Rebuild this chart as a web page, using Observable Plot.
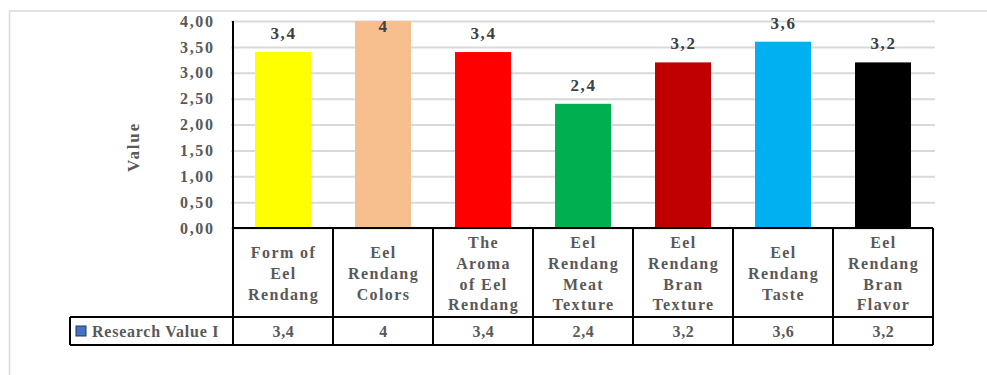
<!DOCTYPE html>
<html>
<head>
<meta charset="utf-8">
<script src="https://cdn.jsdelivr.net/npm/d3@7"></script>
<script src="https://cdn.jsdelivr.net/npm/@observablehq/plot@0.6"></script>
<style>
  body { margin: 0; background: #fff; }
  #chart svg { display: block; }
  #chart svg text { font-family: "Liberation Serif", "DejaVu Serif", serif !important; font-weight: bold; }
</style>
</head>
<body>
<div id="chart"></div>
<script>
// ---- data ----
const categories = [
  "Form of\nEel\nRendang",
  "Eel\nRendang\nColors",
  "The\nAroma\nof Eel\nRendang",
  "Eel\nRendang\nMeat\nTexture",
  "Eel\nRendang\nBran\nTexture",
  "Eel\nRendang\nTaste",
  "Eel\nRendang\nBran\nFlavor"
];
const values = [3.4, 4, 3.4, 2.4, 3.2, 3.6, 3.2];
const barColors = ["#FFFF00", "#F8BF8E", "#FF0000", "#00B050", "#C00000", "#00B0F0", "#000000"];
const seriesName = "Research Value I";
const yTicks = [0, 0.5, 1, 1.5, 2, 2.5, 3, 3.5, 4];
const yLabel = "Value";

const data = categories.map((c, i) => ({category: c, value: values[i], color: barColors[i]}));
const fmt = v => String(v).replace(".", ",");
const yMax = d3.max(yTicks);

const FONT = "Liberation Serif";

const plot = Plot.plot({
  width: 987,
  height: 375,
  marginLeft: 231,
  marginRight: 52,
  marginTop: 21,
  marginBottom: 147,
  style: {fontFamily: FONT, fontWeight: "bold", fontSize: "15px", color: "#595959", background: "#fff", overflow: "visible"},
  x: {type: "band", domain: categories, padding: 0, axis: null},
  y: {domain: [0, yMax], axis: null},
  color: {type: "identity"},
  marks: [
    Plot.gridY(yTicks, {stroke: "#d9d9d9", strokeOpacity: 1, strokeWidth: 2}),
    Plot.axisY(yTicks, {
      ariaDescription: "yticks",
      tickSize: 0, tickPadding: 17,
      tickFormat: d => d.toFixed(2).replace(".", ","),
      fontSize: 16, fontFamily: FONT, fill: "#595959",
      label: null
    }),
    Plot.text([yLabel], {
      ariaDescription: "ylabel",
      frameAnchor: "left", textAnchor: "middle", dx: -98, dy: 22, rotate: -90,
      fontSize: 17, fontFamily: FONT, fill: "#595959"
    }),
    Plot.barY(data, {x: "category", y: "value", fill: "color", insetLeft: 22, insetRight: 22}),
    Plot.text(data.filter(d => d.value < yMax), {
      ariaDescription: "vlabels",
      x: "category", y: "value", text: d => fmt(d.value), dy: -19,
      fontSize: 17, fontFamily: FONT, fill: "#404040"
    }),
    Plot.text(data.filter(d => d.value >= yMax), {
      ariaDescription: "vlabels",
      x: "category", y: "value", text: d => fmt(d.value), dy: 5,
      fontSize: 17, fontFamily: FONT, fill: "#404040"
    }),
    // category labels in the data table
    Plot.text(data, {
      ariaDescription: "cats",
      x: "category", y: 0, text: "category", dy: 44, lineHeight: 1.3,
      fontSize: 16, fontFamily: FONT, fill: "#595959"
    }),
    // value row of the data table
    Plot.text(data, {
      ariaDescription: "tablevals",
      x: "category", y: 0, text: d => fmt(d.value), dy: 103,
      fontSize: 16, fontFamily: FONT, fill: "#595959"
    })
  ]
});

const svg = d3.select(plot);
const spacing = {yticks: "1.6px", ylabel: "1.8px", vlabels: "1.6px", cats: "1.4px", tablevals: "0.6px"};
Object.entries(spacing).forEach(([k, v]) => {
  svg.selectAll(`[aria-description="${k}"] text, [aria-description="${k}"] tspan`).style("letter-spacing", v);
});
svg.selectAll(`g[aria-label="y-axis tick label"] text`).style("letter-spacing", spacing.yticks);

// ---- data table grid, positioned from the plot's scales ----
const xs = plot.scale("x"), ys = plot.scale("y");
const x0 = xs.apply(categories[0]);
const bw = xs.bandwidth;
const xEnd = xs.apply(categories[categories.length - 1]) + bw;
const yBase = ys.apply(0), yTop = ys.apply(yMax);
const row1 = yBase + 89, row2 = row1 + 28;
const tableLeft = 70;

const g = svg.append("g").attr("stroke", "#000").attr("stroke-width", 2).attr("fill", "none");
// outer light frame
svg.insert("path", ":first-child")
  .attr("d", `M9.5,375V11H987`).attr("stroke", "#d9d9d9").attr("stroke-width", 1.5).attr("fill", "none");
g.append("line").attr("x1", x0).attr("x2", x0).attr("y1", yTop).attr("y2", row2);
g.append("line").attr("x1", x0).attr("x2", xEnd).attr("y1", yBase).attr("y2", yBase);
categories.forEach(c => {
  const xr = xs.apply(c) + bw;
  g.append("line").attr("x1", xr).attr("x2", xr).attr("y1", yBase).attr("y2", row2);
});
g.append("line").attr("x1", tableLeft).attr("x2", xEnd).attr("y1", row1).attr("y2", row1);
g.append("line").attr("x1", tableLeft).attr("x2", xEnd).attr("y1", row2).attr("y2", row2);
g.append("line").attr("x1", tableLeft).attr("x2", tableLeft).attr("y1", row1).attr("y2", row2);

// legend key in the table
const ym = (row1 + row2) / 2;
svg.append("rect").attr("x", 76).attr("y", ym - 5).attr("width", 10).attr("height", 10)
  .attr("fill", "#4472C4").attr("stroke", "#1F3864").attr("stroke-width", 1);
svg.append("text").attr("x", 92).attr("y", ym).attr("dy", "0.35em")
  .attr("text-anchor", "start")
  .attr("fill", "#595959").attr("font-size", 16).style("letter-spacing", "0.75px")
  .attr("font-family", FONT).attr("font-weight", "bold").text(seriesName);

document.getElementById("chart").append(plot);
</script>
</body>
</html>
